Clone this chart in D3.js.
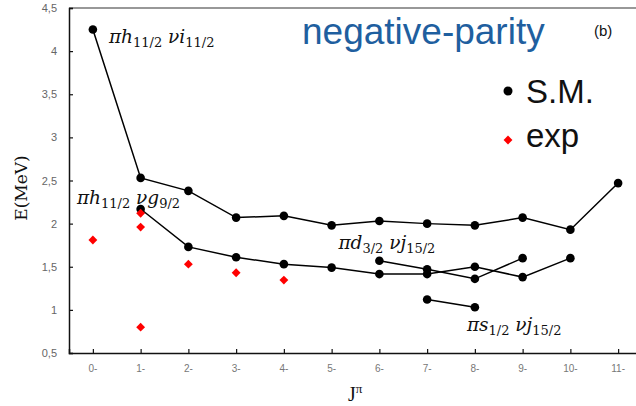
<!DOCTYPE html>
<html>
<head>
<meta charset="utf-8">
<script src="https://cdn.jsdelivr.net/npm/d3@7"></script>
<style>
  body { margin: 0; background: #fff; }
  svg { display: block; }
</style>
</head>
<body>
<svg id="chart" width="636" height="406"></svg>
<script>
const categories = ["0-", "1-", "2-", "3-", "4-", "5-", "6-", "7-", "8-", "9-", "10-", "11-"];
const yTicks = [0.5, 1, 1.5, 2, 2.5, 3, 3.5, 4, 4.5];

// shell model, pi h11/2 nu i11/2 (0- .. 11-)
const smHI = [4.25, 2.53, 2.38, 2.07, 2.09, 1.98, 2.03, 2.0, 1.98, 2.07, 1.93, 2.47];
const smHIcats = categories;
// shell model, pi h11/2 nu g9/2 (1- .. 10-)
const smHG = [2.17, 1.73, 1.61, 1.53, 1.49, 1.415, 1.415, 1.5, 1.38, 1.6];
const smHGcats = ["1-", "2-", "3-", "4-", "5-", "6-", "7-", "8-", "9-", "10-"];
// shell model, pi d3/2 nu j15/2
const smDJ = [1.57, 1.47, 1.36, 1.6];
const smDJcats = ["6-", "7-", "8-", "9-"];
// shell model, pi s1/2 nu j15/2
const smSJ = [1.12, 1.03];
const smSJcats = ["7-", "8-"];
// experiment
const expCats = ["0-", "1-", "1-", "1-", "2-", "3-", "4-"];
const expVals = [1.81, 2.12, 1.96, 0.8, 1.53, 1.43, 1.345];

const svg = d3.select("#chart");
const plotLeft = 69, plotTop = 8, plotBottom = 353, step = 47.75;

const x = d3.scalePoint()
  .domain(categories)
  .range([plotLeft, plotLeft + step * categories.length])
  .padding(0.5);

const y = d3.scaleLinear().domain([0.5, 4.5]).range([plotBottom, plotTop]);

// frame (top line + axes)
svg.append("line")
  .attr("x1", plotLeft).attr("x2", 636)
  .attr("y1", plotTop).attr("y2", plotTop)
  .attr("stroke", "#333").attr("stroke-width", 1.2);

const yAxis = svg.append("g")
  .attr("transform", `translate(${plotLeft},0)`)
  .call(d3.axisRight(y).tickValues(yTicks).tickSize(4).tickFormat(""));
yAxis.select(".domain").attr("stroke", "#111").attr("stroke-width", 1.5);
yAxis.selectAll(".tick line").attr("stroke", "#111").attr("stroke-width", 1.2);

// y tick labels with comma decimal
svg.append("g").selectAll("text")
  .data(yTicks)
  .join("text")
  .attr("x", plotLeft - 12)
  .attr("y", (d) => y(d) + 4)
  .attr("text-anchor", "end")
  .attr("font-family", "Liberation Sans, Arial, sans-serif")
  .attr("font-size", 11)
  .attr("fill", "#666")
  .text((d) => String(d).replace(".", ","));

const xAxis = svg.append("g")
  .attr("transform", `translate(0,${plotBottom})`)
  .call(d3.axisTop(x).tickSize(4).tickFormat(""));
xAxis.select(".domain").attr("stroke", "#111").attr("stroke-width", 1.5);
xAxis.selectAll(".tick line").attr("stroke", "#111").attr("stroke-width", 1.2);

svg.append("g").selectAll("text")
  .data(categories)
  .join("text")
  .attr("x", (d) => x(d))
  .attr("y", plotBottom + 19)
  .attr("text-anchor", "middle")
  .attr("font-family", "Liberation Sans, Arial, sans-serif")
  .attr("font-size", 10)
  .attr("fill", "#777")
  .text((d) => d);

// axis titles
svg.append("text")
  .attr("transform", "translate(27,188) rotate(-90)")
  .attr("text-anchor", "middle")
  .attr("font-family", "DejaVu Serif, Liberation Serif, serif")
  .attr("font-size", 17)
  .attr("fill", "#111")
  .text("E(MeV)");

const jt = svg.append("text")
  .attr("x", 348).attr("y", 401)
  .attr("font-family", "Liberation Serif, serif")
  .attr("font-size", 20)
  .attr("fill", "#111");
jt.append("tspan").text("J");
jt.append("tspan").attr("dy", -8).attr("font-size", 13).text("π");

// shell model lines
const line = d3.line().x((d) => x(d[0])).y((d) => y(d[1]));
const smSeries = [
  d3.zip(smHIcats, smHI),
  d3.zip(smHGcats, smHG),
  d3.zip(smDJcats, smDJ),
  d3.zip(smSJcats, smSJ),
];

smSeries.forEach((s) => {
  svg.append("path")
    .datum(s)
    .attr("d", line)
    .attr("fill", "none")
    .attr("stroke", "#000")
    .attr("stroke-width", 1.5);
  svg.append("g").selectAll("circle")
    .data(s)
    .join("circle")
    .attr("cx", (d) => x(d[0]))
    .attr("cy", (d) => y(d[1]))
    .attr("r", 4.3)
    .attr("fill", "#000");
});

// experimental points
const diamond = d3.symbol().type(d3.symbolDiamond2).size(50);
svg.append("g").selectAll("path")
  .data(d3.zip(expCats, expVals))
  .join("path")
  .attr("d", diamond)
  .attr("transform", (d) => `translate(${x(d[0])},${y(d[1])})`)
  .attr("fill", "#ff0000");

// configuration labels
function configLabel(px, py, parts) {
  const t = svg.append("text")
    .attr("x", px).attr("y", py)
    .attr("font-family", "DejaVu Serif, Liberation Serif, serif")
    .attr("font-style", "italic")
    .attr("font-size", 18.5)
    .attr("fill", "#111");
  parts.forEach((p) => {
    t.append("tspan").text(p[0]);
    t.append("tspan").attr("dy", 4).attr("font-size", 13).attr("font-style", "normal").text(p[1]);
    t.append("tspan").attr("dy", -4).text(p[2] || "");
  });
}
configLabel(x("0-") + 16, y(4.25) + 13, [["πh", "11/2", " "], ["νi", "11/2"]]);
configLabel(x("0-") - 16, y(2.17) - 5, [["πh", "11/2", " "], ["νg", "9/2"]]);
configLabel(x("6-") - 41, y(1.57) - 12, [["πd", "3/2", " "], ["νj", "15/2"]]);
configLabel(x("8-") - 8, y(1.03) + 24, [["πs", "1/2", " "], ["νj", "15/2"]]);

// title and panel tag
svg.append("text")
  .attr("x", 302).attr("y", 44)
  .attr("font-family", "Liberation Sans, Arial, sans-serif")
  .attr("font-size", 37)
  .attr("fill", "#1f5f9f")
  .text("negative-parity");

svg.append("text")
  .attr("x", 594).attr("y", 36)
  .attr("font-family", "Liberation Sans, Arial, sans-serif")
  .attr("font-size", 15)
  .attr("fill", "#111")
  .text("(b)");

// legend
const legend = svg.append("g");
legend.append("circle").attr("cx", 508).attr("cy", 91).attr("r", 4.5).attr("fill", "#000");
legend.append("text")
  .attr("x", 526).attr("y", 103)
  .attr("font-family", "Liberation Sans, Arial, sans-serif")
  .attr("font-size", 33)
  .attr("fill", "#111")
  .text("S.M.");
legend.append("path")
  .attr("d", diamond)
  .attr("transform", "translate(508,140)")
  .attr("fill", "#ff0000");
legend.append("text")
  .attr("x", 526).attr("y", 147)
  .attr("font-family", "Liberation Sans, Arial, sans-serif")
  .attr("font-size", 33)
  .attr("fill", "#111")
  .text("exp");
</script>
</body>
</html>
